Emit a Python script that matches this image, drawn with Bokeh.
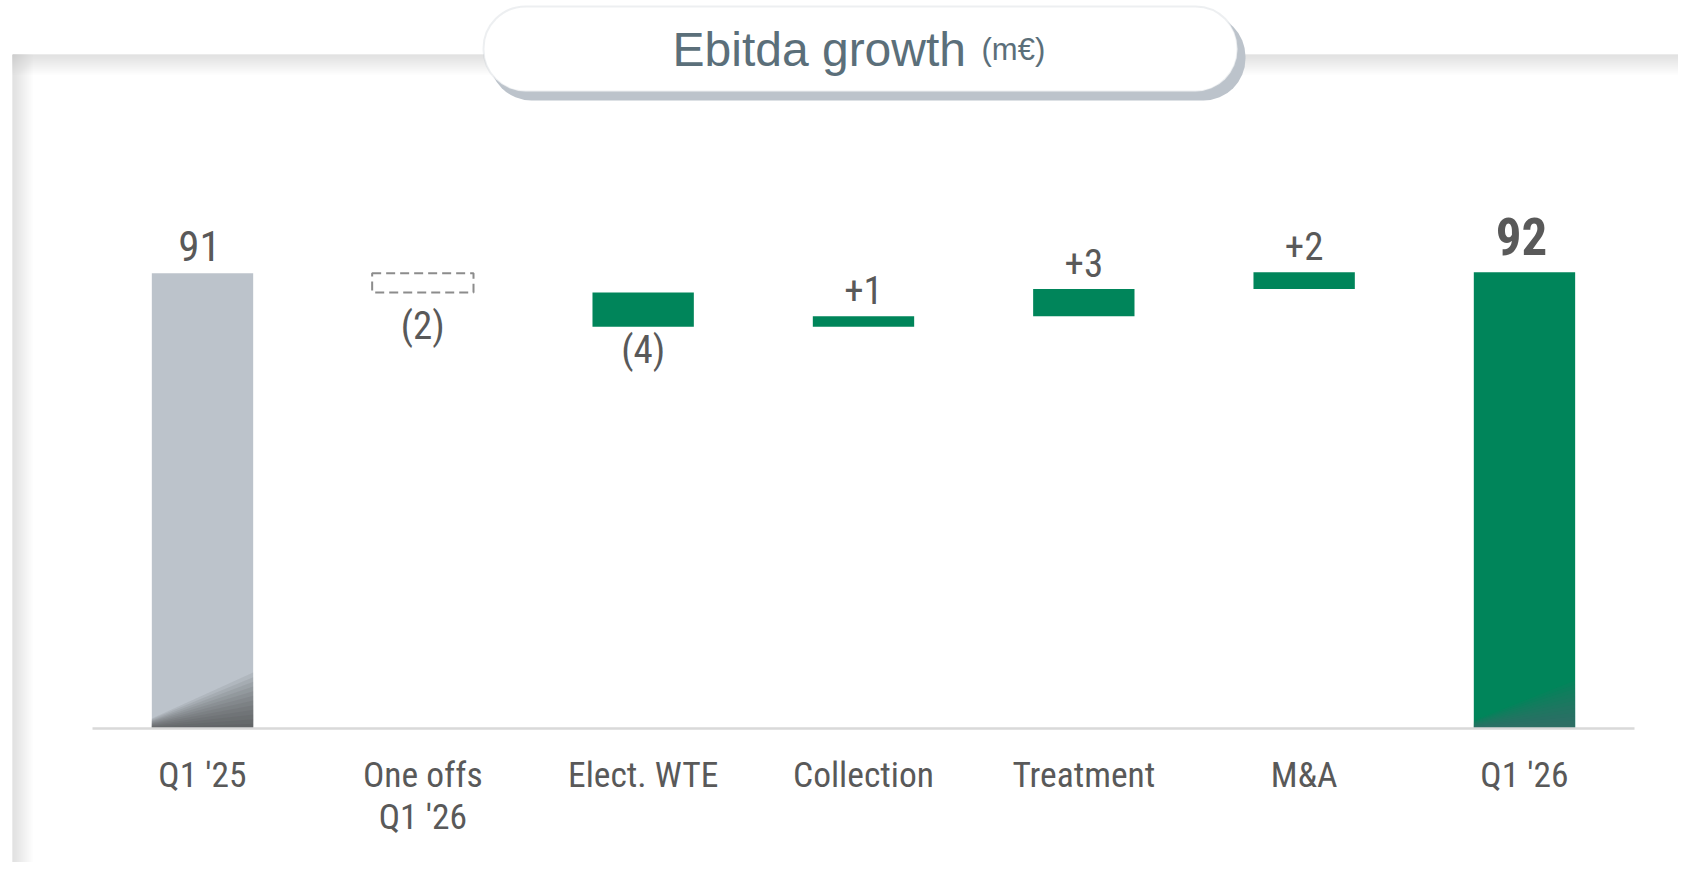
from bokeh.plotting import figure
from bokeh.models import Range1d, LinearAxis, FixedTicker, BoxAnnotation, Label
from bokeh.core.properties import value
from bokeh.embed import file_html
from bokeh.resources import INLINE

# ---------------- data ----------------
categories = ["Q1 '25", "One offs\nQ1 '26", "Elect. WTE", "Collection",
              "Treatment", "M&A", "Q1 '26"]
start_total = 91.4
deltas = [-2.2, -3.9, 1.2, 3.1, 1.9]
delta_is_one_off = [True, False, False, False, False]
title_main = "Ebitda growth"
title_unit = "(m€)"

# ---------------- derived waterfall ----------------
running = [start_total]
for d in deltas:
    running.append(running[-1] + d)
end_total = running[-1]

# ---------------- layout / style ----------------
W, H = 1678, 862
AXIS_PX = 728                # canvas y (from top) of the category axis
BELOW = H - AXIS_PX          # pixels below the axis
CAT_PX = 220.33
FIRST_CENTER_PX = 202
PX_PER_UNIT = 8.8
AXIS_BASE = 39.66            # broken-axis baseline value

GREY_BAR = "#bcc3cb"
GREEN = "#00855a"
TEXT = "#595959"
COND = value("Roboto Condensed")
REGULAR = "Liberation Sans"

x0 = -FIRST_CENTER_PX / CAT_PX
p = figure(width=W, height=H,
           x_range=Range1d(x0, x0 + W / CAT_PX),
           y_range=Range1d(AXIS_BASE - BELOW / PX_PER_UNIT,
                           AXIS_BASE + AXIS_PX / PX_PER_UNIT),
           output_backend="svg", toolbar_location=None,
           x_axis_type=None, y_axis_type=None,
           min_border=0,
           background_fill_color="white", border_fill_color="white",
           outline_line_color=None)


def sbox(**kw):
    return BoxAnnotation(left_units="screen", right_units="screen",
                         top_units="screen", bottom_units="screen", **kw)


def sy(y_from_top):
    return H - y_from_top


# ---------------- card with soft inner shadow ----------------
card_left, card_top = 12, sy(54)
for k in range(10):
    p.add_layout(sbox(left=card_left, right=card_left + 2 * (k + 1),
                      top=card_top, bottom=-50, fill_color="#aab3bd",
                      fill_alpha=0.04, line_color=None, level="underlay"))
    p.add_layout(sbox(left=card_left, right=W + 20, top=card_top,
                      bottom=card_top - 2 * (k + 1), fill_color="#aab3bd",
                      fill_alpha=0.04, line_color=None, level="underlay"))

# ---------------- title pill ----------------
p.add_layout(sbox(left=489, right=1245, top=sy(14), bottom=sy(100),
                  border_radius=42, fill_color="#bcc3cb", fill_alpha=1,
                  line_color=None))
p.add_layout(sbox(left=483, right=1237, top=sy(6), bottom=sy(91),
                  border_radius=42, fill_color="white", fill_alpha=1,
                  line_color="#c4cbd2", line_width=2))
p.add_layout(Label(x=672, y=sy(49), x_units="screen", y_units="screen",
                   text=title_main, text_font=REGULAR, text_font_size="48px",
                   text_color="#5b6f7a", text_baseline="alphabetic"))
p.add_layout(Label(x=981, y=sy(49), x_units="screen", y_units="screen",
                   text=title_unit, text_font=REGULAR, text_font_size="31px",
                   text_color="#5b6f7a", text_baseline="alphabetic"))

# ---------------- bars ----------------
n = len(categories)
BAR_W = 0.46
tot_x = [0, n - 1]
tot_top = [start_total, end_total]
p.vbar(x=tot_x, top=tot_top, bottom=AXIS_BASE, width=BAR_W,
       fill_color=[GREY_BAR, GREEN], line_color=None)

# subtle diagonal shading at the foot of the two total bars
shade = [("#3a3a3a", 0.085, 56, 10), ("#5a6570", 0.07, 48, 8)]
for xi, (col, a, hr, hl) in zip(tot_x, shade):
    N = 12
    xs, ys = [], []
    for k in range(1, N + 1):
        xs.append([xi - BAR_W / 2, xi + BAR_W / 2, xi + BAR_W / 2, xi - BAR_W / 2])
        ys.append([AXIS_BASE, AXIS_BASE,
                   AXIS_BASE + hr * k / N / PX_PER_UNIT,
                   AXIS_BASE + hl * k / N / PX_PER_UNIT])
    p.patches(xs=xs, ys=ys, fill_color=col, fill_alpha=a, line_color=None)

op_x, op_top, op_bot, oo_x, oo_top, oo_bot = [], [], [], [], [], []
for i, d in enumerate(deltas):
    lo, hi = sorted([running[i], running[i + 1]])
    if delta_is_one_off[i]:
        oo_x.append(i + 1); oo_top.append(hi); oo_bot.append(lo)
    else:
        op_x.append(i + 1); op_top.append(hi); op_bot.append(lo)
p.vbar(x=op_x, top=op_top, bottom=op_bot, width=BAR_W, fill_color=GREEN,
       line_color=None)
p.vbar(x=oo_x, top=oo_top, bottom=oo_bot, width=BAR_W, fill_color=None,
       line_color="#8c8c8c", line_width=2, line_dash="9 5")

# ---------------- value labels ----------------
p.text(x=[0], y=[start_total], text=[str(round(start_total))], y_offset=[-27],
       x_offset=[-3], text_align="center", text_baseline="alphabetic",
       text_font=COND, text_font_size="43px", text_color=TEXT)
p.text(x=[n - 1], y=[end_total], text=[str(round(end_total))], y_offset=[-36],
       x_offset=[-3], text_align="center", text_baseline="alphabetic",
       text_font=COND, text_font_size="51px", text_font_style="bold",
       text_color=TEXT)

pos_x, pos_y, pos_t, neg_x, neg_y, neg_t, neg_off = [], [], [], [], [], [], []
for i, d in enumerate(deltas):
    lo, hi = sorted([running[i], running[i + 1]])
    if d >= 0:
        pos_x.append(i + 1); pos_y.append(hi); pos_t.append(f"+{round(d)}")
    else:
        neg_x.append(i + 1); neg_y.append(lo); neg_t.append(f"({round(abs(d))})")
        neg_off.append(10 if delta_is_one_off[i] else 0)
p.text(x=pos_x, y=pos_y, text=pos_t, y_offset=[-26] * len(pos_x),
       text_align="center", text_baseline="alphabetic", text_font=COND,
       text_font_size="39px", text_color=TEXT)
p.text(x=neg_x, y=neg_y, text=neg_t, y_offset=neg_off, text_align="center",
       text_baseline="top", text_font=COND, text_font_size="39px",
       text_color=TEXT)

# ---------------- category axis (fixed at the broken baseline) ----------------
xaxis = LinearAxis(ticker=FixedTicker(ticks=list(range(n))),
                   major_label_overrides={i: c for i, c in enumerate(categories)},
                   bounds=(-0.5, n - 0.5), fixed_location=AXIS_BASE,
                   axis_line_color="#d9d9d9", axis_line_width=2.5,
                   major_tick_line_color=None, minor_tick_line_color=None,
                   major_label_standoff=19,
                   major_label_text_font="Roboto Condensed",
                   major_label_text_font_size="35.5px",
                   major_label_text_color=TEXT,
                   major_label_text_line_height=1.0)
p.add_layout(xaxis, "below")

open("out.html", "w").write(file_html(p, INLINE))
